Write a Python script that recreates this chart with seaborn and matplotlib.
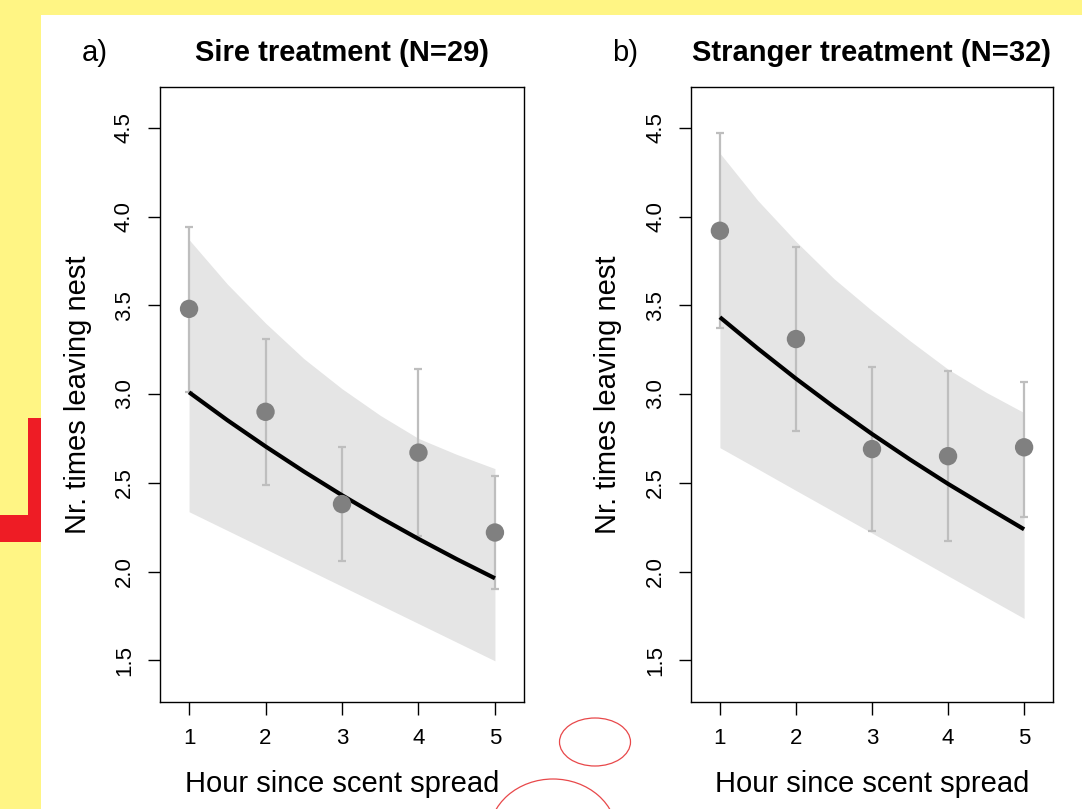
import numpy as np
import pandas as pd
import matplotlib
matplotlib.use("Agg")
import matplotlib.pyplot as plt
from matplotlib.patches import Rectangle, Ellipse
import seaborn as sns

# ---------------- data ----------------
hours = [1, 2, 3, 4, 5]
fit_x = [1, 1.5, 2, 2.5, 3, 3.5, 4, 4.5, 5]

sire_mean = [3.48, 2.90, 2.38, 2.67, 2.22]
sire_low = [3.01, 2.49, 2.06, 2.20, 1.90]
sire_high = [3.94, 3.31, 2.70, 3.14, 2.54]
sire_fit = [3.010, 2.853, 2.705, 2.564, 2.430, 2.304, 2.184, 2.070, 1.962]
sire_fit_low = [2.337, 2.232, 2.127, 2.022, 1.917, 1.812, 1.707, 1.602, 1.497]
sire_fit_high = [3.87, 3.62, 3.40, 3.20, 3.03, 2.88, 2.75, 2.66, 2.58]

str_mean = [3.92, 3.31, 2.69, 2.65, 2.70]
str_low = [3.37, 2.79, 2.23, 2.17, 2.31]
str_high = [4.47, 3.83, 3.15, 3.13, 3.07]
str_fit = [3.433, 3.256, 3.087, 2.927, 2.775, 2.631, 2.494, 2.365, 2.238]
str_fit_low = [2.698, 2.578, 2.457, 2.337, 2.217, 2.097, 1.976, 1.856, 1.736]
str_fit_high = [4.357, 4.09, 3.86, 3.65, 3.47, 3.30, 3.14, 3.01, 2.895]

titles = ["Sire treatment (N=29)", "Stranger treatment (N=32)"]
panel_tags = ["a)", "b)"]
xlabel = "Hour since scent spread"
ylabel = "Nr. times leaving nest"
yticks = [1.5, 2.0, 2.5, 3.0, 3.5, 4.0, 4.5]
ytick_labels = ["1.5", "2.0", "2.5", "3.0", "3.5", "4.0", "4.5"]

# ---------------- style ----------------
sns.set_theme(style="white")
plt.rcParams["font.family"] = ["Liberation Sans", "DejaVu Sans"]

W, H = 1082, 809
fig = plt.figure(figsize=(W / 100, H / 100), dpi=100)
fig.patch.set_facecolor("white")

# background decoration (yellow margins, red mark, red ellipses)
bg = fig.add_axes([0, 0, 1, 1], zorder=-10)
bg.set_xlim(0, W)
bg.set_ylim(H, 0)
bg.axis("off")
yellow = "#FFF584"
bg.add_patch(Rectangle((0, 0), W, 15, color=yellow, lw=0))
bg.add_patch(Rectangle((0, 0), 41, H, color=yellow, lw=0))
bg.add_patch(Rectangle((28, 418), 13, 124, color="#EE1C25", lw=0))
bg.add_patch(Rectangle((0, 515), 41, 27, color="#EE1C25", lw=0))
bg.add_patch(Ellipse((595, 742), 71, 48, fill=False, ec="#E8484A", lw=0.9))
bg.add_patch(Ellipse((553, 835), 128, 112, fill=False, ec="#E8484A", lw=0.9))

panels = [
    dict(mean=sire_mean, low=sire_low, high=sire_high, fit=sire_fit,
         flo=sire_fit_low, fhi=sire_fit_high, pos=[160 / W, 1 - 702 / H, 364 / W, 615 / H],
         tagx=95, labx=78),
    dict(mean=str_mean, low=str_low, high=str_high, fit=str_fit,
         flo=str_fit_low, fhi=str_fit_high, pos=[691 / W, 1 - 702 / H, 362 / W, 615 / H],
         tagx=625, labx=608),
]

for i, p in enumerate(panels):
    ax = fig.add_axes(p["pos"])
    ax.set_facecolor("white")
    ax.fill_between(fit_x, p["flo"], p["fhi"], color="#E5E5E5", lw=0, zorder=1)
    ax.errorbar(hours, p["mean"],
                yerr=[np.array(p["mean"]) - np.array(p["low"]),
                      np.array(p["high"]) - np.array(p["mean"])],
                fmt="none", ecolor="#BEBEBE", elinewidth=1.6, capsize=3.2,
                capthick=1.6, zorder=2)
    sns.lineplot(x=fit_x, y=p["fit"], color="black", lw=3.0, ax=ax, zorder=3,
                 solid_joinstyle="round", solid_capstyle="butt")
    sns.scatterplot(x=hours, y=p["mean"], color="#808080", s=175, edgecolor="none",
                    ax=ax, zorder=4)

    ax.set_xlim(0.62, 5.38)
    ax.set_ylim(1.265, 4.73)
    ax.set_xticks(hours)
    ax.set_xticklabels([str(h) for h in hours])
    ax.set_yticks(yticks)
    ax.set_yticklabels(ytick_labels, rotation=90, va="center")
    ax.tick_params(axis="both", which="major", direction="out", length=9, width=1.0,
                   color="black", labelsize=16, labelcolor="black", left=True, bottom=True)
    ax.tick_params(axis="x", pad=10)
    ax.tick_params(axis="y", pad=9)
    for s in ax.spines.values():
        s.set_visible(True)
        s.set_color("black")
        s.set_linewidth(1.0)
    ax.set_xlabel("")
    ax.set_ylabel("")

    cx = (p["pos"][0] + p["pos"][2] / 2)
    fig.text(cx, 1 - 784 / H, xlabel, ha="center", va="center", fontsize=21, color="black")
    fig.text(p["labx"] / W, p["pos"][1] + p["pos"][3] / 2, ylabel, ha="center", va="center",
             rotation=90, fontsize=21, color="black")
    fig.text(cx, 1 - 53 / H, titles[i], ha="center", va="center", fontsize=21,
             fontweight="bold", color="black")
    fig.text(p["tagx"] / W, 1 - 53 / H, panel_tags[i], ha="center", va="center",
             fontsize=21, color="black")

fig.savefig("out.png", dpi=100, facecolor=fig.get_facecolor())
